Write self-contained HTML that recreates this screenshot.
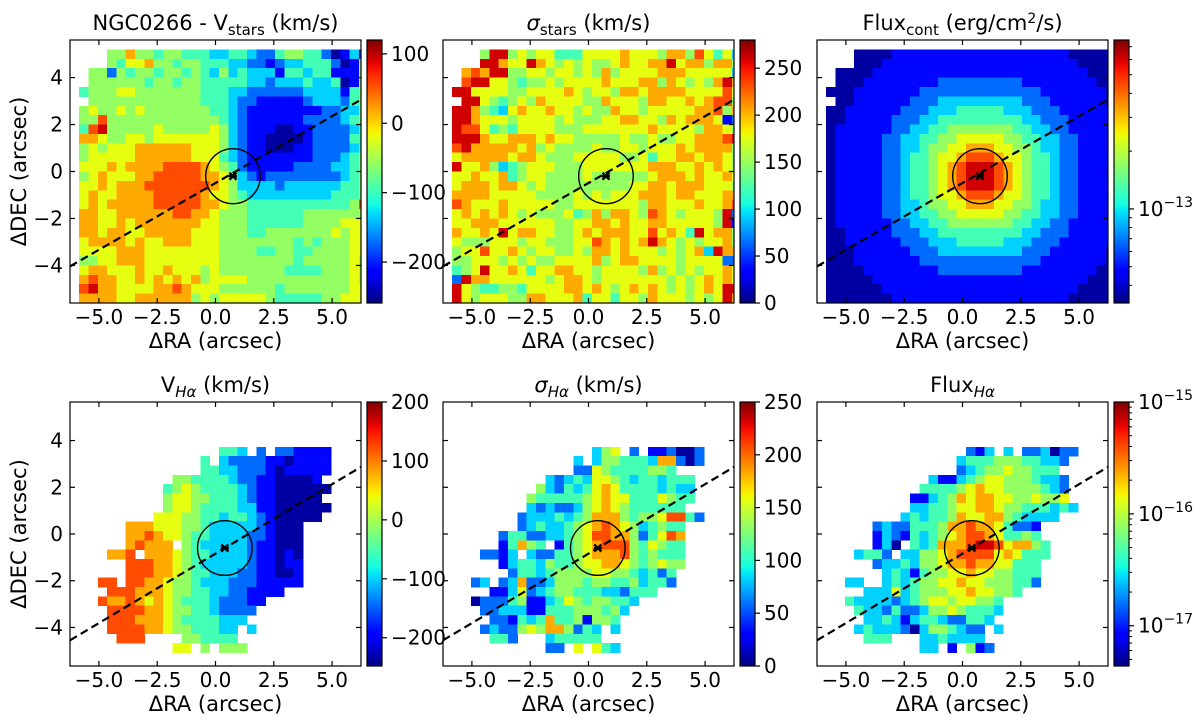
<!DOCTYPE html>
<html><head><meta charset="utf-8"><title>NGC0266 kinematic maps</title>
<style>
html,body{margin:0;padding:0;background:#fff;}
svg{display:block;font-family:"DejaVu Sans","Liberation Sans",sans-serif;}
</style></head>
<body>
<svg id="fig" width="1200" height="726" viewBox="0 0 1200 726" xmlns="http://www.w3.org/2000/svg"></svg>
<script>
// ---------- DATA (digit 0..9 -> value between panel vmin and vmax; '.' = no data) ----------
const V_STARS_GRID = [
"...5575545"+"5444334432"+"24554420131",
"...5466755"+"4554443322"+"12334442015",
".552545545"+"5454353433"+"31443441115",
".555555455"+"4554444433"+"23334334015",
"4555665555"+"5554443322"+"22223333145",
".555555555"+"5554443221"+"11112333245",
"5655656555"+"5555443211"+"11111122335",
"5585555555"+"5555543211"+"11112222345",
"4895555565"+"5555653211"+"10011222234",
"7765566566"+"6666653211"+"00001222244",
"5656667777"+"7766653211"+"00011222234",
"5666667777"+"7766643211"+"11111222345",
"6667677778"+"8887654211"+"11122223345",
"5676667788"+"8887765321"+"22222222345",
"6676777888"+"8888765333"+"32333333445",
"6766777788"+"8887665433"+"33333334445",
"6767777788"+"8887765544"+"44444444458",
"7766777777"+"8877655544"+"44445555555",
"7766767777"+"7776655544"+"44445555666",
"7767766777"+"7766655544"+"55555556566",
"6777767667"+"7766655555"+"55545455566",
"6666777666"+"6666655554"+"45544555566",
"5566777666"+"6666655555"+"55545555565",
"6776667667"+"6665655555"+"55444455565",
"7877667676"+"7675666655"+"55555555565",
"8977666677"+"8766655555"+"54555555566",
"7777667777"+"7756566666"+"54444455666",
"6667667876"+"6777556666"+"66665555667"
];
const SIGMA_STARS_GRID = [
"...5995656"+"6444666676"+"66577586463",
"...9976697"+"6565655676"+"67796775775",
".787995566"+"5665657566"+"66777666663",
".899665455"+"6566667666"+"77576565797",
"9966665566"+"6676566577"+"67777666686",
".996545657"+"6666557666"+"57766767885",
"9975436766"+"7665655766"+"56666677857",
"9976665666"+"6565556677"+"66576777612",
"9886454666"+"6555666666"+"67666657765",
"9997667776"+"7665555565"+"56556677789",
"8977777675"+"6555565566"+"56667677775",
"6777776776"+"5556666655"+"64667767765",
"9667534566"+"6555666666"+"67776676765",
"6676674566"+"5555655555"+"56777676676",
"6777677656"+"5555555556"+"67767776665",
"7777666665"+"5556565666"+"77767766677",
"8766676666"+"6556666666"+"57766676678",
"6767676565"+"5564575776"+"58765666592",
"6677766666"+"6556677676"+"67766666591",
"7667696776"+"6556767776"+"68676496775",
"6555666566"+"5556687676"+"79765656675",
"5668667656"+"6556577676"+"66565673977",
"5566656565"+"5666675677"+"66665666622",
"4569667646"+"6776656666"+"57565656676",
"2977666666"+"5677656666"+"66656567676",
"9654455466"+"6677676567"+"67656567699",
"9656665577"+"6667466466"+"57666565697",
"6666566656"+"6776665566"+"66666567776"
];
const FLUX_CONT_GRID = [
"..."+"0000"+"1111111111111111111"+"00000",
"..."+"000"+"111111111111111111111"+"0000",
"."+"0000"+"11111111111111111111111"+"000",
"."+"000"+"11111111"+"222222222"+"11111111"+"00",
"000"+"1111111"+"2222222222222"+"1111111"+"0",
"."+"00"+"111111"+"222"+"333333333"+"222"+"111111"+"0",
"00"+"111111"+"222"+"333"+"44444"+"333"+"222"+"111111",
"00"+"11111"+"222"+"33"+"444444444"+"33"+"222"+"11111",
"0"+"111111"+"22"+"33"+"44"+"5555555"+"44"+"33"+"22"+"11111",
"0"+"11111"+"22"+"33"+"44"+"55"+"66666"+"55"+"44"+"33"+"22"+"1111",
"0"+"11111"+"22"+"33"+"4"+"55"+"66"+"777"+"66"+"55"+"4"+"33"+"22"+"1111",
"0"+"11111"+"22"+"3"+"44"+"5"+"66"+"7"+"888"+"7"+"66"+"5"+"44"+"3"+"22"+"1111",
"0"+"11111"+"22"+"3"+"44"+"5"+"6"+"7"+"8"+"999"+"8"+"7"+"6"+"5"+"44"+"3"+"22"+"1111",
"0"+"11111"+"22"+"3"+"44"+"5"+"6"+"7"+"8"+"999"+"8"+"7"+"6"+"5"+"44"+"3"+"22"+"1111",
"0"+"11111"+"22"+"3"+"44"+"5"+"6"+"7"+"8"+"999"+"8"+"7"+"6"+"5"+"44"+"3"+"22"+"1111",
"0"+"11111"+"22"+"3"+"44"+"5"+"66"+"7"+"888"+"7"+"66"+"5"+"44"+"3"+"22"+"1111",
"0"+"11111"+"22"+"33"+"4"+"55"+"66"+"777"+"66"+"55"+"4"+"33"+"22"+"1111",
"0"+"11111"+"22"+"33"+"44"+"55"+"66666"+"55"+"44"+"33"+"22"+"1111",
"0"+"111111"+"22"+"33"+"44"+"5555555"+"44"+"33"+"22"+"11111",
"00"+"11111"+"222"+"33"+"444444444"+"33"+"222"+"11111",
"00"+"111111"+"222"+"333"+"44444"+"333"+"222"+"111111",
"000"+"111111"+"222"+"333333333"+"222"+"111111"+"0",
"000"+"1111111"+"2222222222222"+"1111111"+"0",
"0000"+"11111111"+"222222222"+"11111111"+"00",
"00000"+"11111111111111111111111"+"000",
"000000"+"111111111111111111111"+"0000",
"0000000"+"1111111111111111111"+"00000",
"000000000"+"111111111111111"+"0000000"
];
const V_HA_GRID = [
"","","","",
"..............."+"443"+"."+"2"+"."+"221111"+"....",
"............."+"4"+"."+"322221101111"+"....",
"............."+"44332221011111"+"....",
".........."+"5544443221100001"+".....",
"........."+"456544443211000000"+"....",
"........."+"56655444321100000"+".....",
"........."+"566544443311000000"+"....",
"........"+"666554434432100000"+".....",
"....."+"7776665543333321000"+".......",
"....."+"7787665443333221000"+".......",
"....."+"78777.5433333211000"+".......",
"..."+"778.77765443333211010"+".......",
"....."+"8887765433333211011"+".......",
"....."+"8887765443332211001"+".......",
".."+"88.8877655433322211111"+".......",
"..."+"8887776554433221111"+".........",
".."+"877876765444322211"+"...........",
"..."+"8888776554432222"+"............",
"..."+"888777654444333"+".............",
"..."+"88887765544433.3"+"............",
"...."+"888"+"...."+"554444"+"..............",
".........."+"66"+"."+"5"+"."+"555"+".............",
"",""
];
const SIGMA_HA_GRID = [
"","","","",
"..............."+"356"+"."+"2"+"."+"112002"+"....",
"............."+"3"+"."+"355444377202"+"....",
"............."+"22654444554"+".......",
".........."+"3234366543443444"+".....",
"........."+"53243467644443433"+".....",
"........"+"544444567664446544"+".....",
"........"+"32322356765444444"+"......",
"......."+"23334345777545568842"+"....",
"......."+"234334567876534544"+"......",
"....."+"24422334568877524687"+"......",
"....."+"14754.14567888546544"+"......",
"..."+"2213.32244567778545444"+"......",
"....."+"13443544566776545655"+"......",
"......"+"244345555665543424"+".......",
".."+"23.2372235554554453442"+".......",
"...."+"113623455444332444"+".........",
".."+"022245113465455443"+"...........",
"..."+"2233311444555453"+"............",
"...."+"22143474451554"+".............",
"..."+"2322565775243.3"+".............",
"...."+"442"+"..."+"344444"+"...............",
".........."+"22"+"."+"6"+"."+"643"+".............",
"",""
];
const FLUX_HA_GRID = [
"","","","",
"..............."+"213"+"."+"3"+"."+"223022"+"....",
".............."+"3"+"44455544332"+".....",
".............."+"23455655444"+"......",
"..........."+"311345665554332"+".....",
".........."+"4444567665555432"+".....",
"........."+"11345767766556556"+".....",
"........."+"334456677655444343"+"....",
"........"+"34344576677543333"+"......",
"....."+"232244457787764221"+"........",
"....."+"132143456788764454"+"........",
"....."+"130.434777899867754"+".......",
"..."+"3442.3355678888676444"+".......",
"....."+"233435567787766444"+"........",
"......"+"34314556676655444"+"........",
".."+"33..34345566766555442"+"........",
"...."+"33363455566766554"+"..........",
".."+"43333234566566554"+"............",
"..."+"4332422355654443"+"............",
"...."+"33431344322443"+".............",
"..."+"34333203554322.3"+"............",
"...."+"444"+"..."+"3343333"+"..............",
".........."+"33"+"."+"1"+"."+"512"+".............",
"",""
];
// value ranges (colour limits); log panels in log10 units
const V_STARS_RANGE = [-259, 120];
const SIGMA_STARS_RANGE = [0, 280];
const FLUX_CONT_RANGE = [-13.49, -12.12];
const V_HA_RANGE = [-248, 200];
const SIGMA_HA_RANGE = [0, 250];
const FLUX_HA_RANGE = [-17.36, -15.0];
// tick labels
const X_TICKS = [-5, -2.5, 0, 2.5, 5];
const Y_TICKS = [-4, -2, 0, 2, 4];
const CB_V_STARS_TICKS = [100, 0, -100, -200];
const CB_SIGMA_STARS_TICKS = [0, 50, 100, 150, 200, 250];
const CB_FLUX_CONT_TICKS = [-13];
const CB_V_HA_TICKS = [200, 100, 0, -100, -200];
const CB_SIGMA_HA_TICKS = [0, 50, 100, 150, 200, 250];
const CB_FLUX_HA_TICKS = [-15, -16, -17];
// kinematic centre and position-angle line (data coords, arcsec)
const CENTER_TOP = [0.75, -0.2];
const CENTER_BOTTOM = [0.4, -0.6];
const PA_LINE_TOP = [[-6.24, -4.04], [6.24, 3.06]];
const PA_LINE_BOTTOM = [[-6.24, -4.55], [6.24, 2.87]];
const APERTURE_RADIUS = 1.17;

// ---------- RENDERING ----------
const NS = "http://www.w3.org/2000/svg";
const svg = document.getElementById("fig");
function mk(tag, attrs, parent) {
  const e = document.createElementNS(NS, tag);
  for (const k in attrs) e.setAttribute(k, attrs[k]);
  (parent || svg).appendChild(e);
  return e;
}
function clamp(v){ return Math.max(0, Math.min(1, v)); }
function interp(pts, t) {
  for (let i = 1; i < pts.length; i++) {
    if (t <= pts[i][0]) {
      const a = pts[i - 1], b = pts[i];
      return a[1] + (b[1] - a[1]) * (t - a[0]) / (b[0] - a[0]);
    }
  }
  return pts[pts.length - 1][1];
}
const JR = [[0,0],[0.35,0],[0.66,1],[0.89,1],[1,0.5]];
const JG = [[0,0],[0.125,0],[0.375,1],[0.64,1],[0.91,0],[1,0]];
const JB = [[0,0.5],[0.11,1],[0.34,1],[0.65,0],[1,0]];
function jet(t) {
  t = clamp(t);
  return "rgb(" + Math.round(interp(JR, t) * 255) + "," + Math.round(interp(JG, t) * 255) + "," + Math.round(interp(JB, t) * 255) + ")";
}
function fmt(v, dec){ return (v < 0 ? "\u2212" : "") + Math.abs(v).toFixed(dec); }

const panels = [
  {key:"v-stars", grid:V_STARS_GRID, range:V_STARS_RANGE, ticks:CB_V_STARS_TICKS, log:false, x:70, y:40, h:263, y0:5.2, ylim:5.6, center:CENTER_TOP, pa:PA_LINE_TOP, ylab:true, title:"t1"},
  {key:"sigma-stars", grid:SIGMA_STARS_GRID, range:SIGMA_STARS_RANGE, ticks:CB_SIGMA_STARS_TICKS, log:false, x:443, y:40, h:263, y0:5.2, ylim:5.6, center:CENTER_TOP, pa:PA_LINE_TOP, ylab:false, title:"t2"},
  {key:"flux-cont", grid:FLUX_CONT_GRID, range:FLUX_CONT_RANGE, ticks:CB_FLUX_CONT_TICKS, log:true, x:817, y:40, h:263, y0:5.2, ylim:5.6, center:CENTER_TOP, pa:PA_LINE_TOP, ylab:false, title:"t3"},
  {key:"v-halpha", grid:V_HA_GRID, range:V_HA_RANGE, ticks:CB_V_HA_TICKS, log:false, x:70, y:402, h:264, y0:5.33, ylim:5.65, center:CENTER_BOTTOM, pa:PA_LINE_BOTTOM, ylab:true, title:"t4"},
  {key:"sigma-halpha", grid:SIGMA_HA_GRID, range:SIGMA_HA_RANGE, ticks:CB_SIGMA_HA_TICKS, log:false, x:443, y:402, h:264, y0:5.33, ylim:5.65, center:CENTER_BOTTOM, pa:PA_LINE_BOTTOM, ylab:false, title:"t5"},
  {key:"flux-halpha", grid:FLUX_HA_GRID, range:FLUX_HA_RANGE, ticks:CB_FLUX_HA_TICKS, log:true, x:817, y:402, h:264, y0:5.33, ylim:5.65, center:CENTER_BOTTOM, pa:PA_LINE_BOTTOM, ylab:false, title:"t6"}
];
const W = 291, XLIM = 6.24, X0 = -5.85, CELL = 0.4;
const FS_TICK = 20, FS_LAB = 21, FS_TITLE = 21, FS_SUB = 15;

function titleText(p, g) {
  const cx = p.x + W / 2, ty = p.y - 10;
  const t = mk("text", {x: cx, y: ty, "text-anchor": "middle", "font-size": FS_TITLE}, g);
  
  
  const parts = {
    t1: [["NGC0266 - V",0,FS_TITLE,""],["stars",5,FS_SUB,""],[" (km/s)",-5,FS_TITLE,""]],
    t2: [["\u03C3",0,FS_TITLE,"italic"],["stars",5,FS_SUB,""],[" (km/s)",-5,FS_TITLE,""]],
    t3: [["Flux",0,FS_TITLE,""],["cont",5,FS_SUB,""],[" (erg/cm",-5,FS_TITLE,""],["2",-7,14,""],["/s)",7,FS_TITLE,""]],
    t4: [["V",0,FS_TITLE,""],["H\u03B1",5,FS_SUB,"italic"],[" (km/s)",-5,FS_TITLE,""]],
    t5: [["\u03C3",0,FS_TITLE,"italic"],["H\u03B1",5,FS_SUB,"italic"],[" (km/s)",-5,FS_TITLE,""]],
    t6: [["Flux",0,FS_TITLE,""],["H\u03B1",5,FS_SUB,"italic"]]
  }[p.title];
  parts.forEach(q => {
    const s = mk("tspan", {dy: q[1], "font-size": q[2]}, t);
    if (q[3]) s.setAttribute("font-style", q[3]);
    s.textContent = q[0];
  });
}

panels.forEach(p => {
  const g = mk("g", {});
  
  
  const sx = x => p.x + (x + XLIM) / (2 * XLIM) * W;
  const sy = y => p.y + (p.ylim - y) / (2 * p.ylim) * p.h;
  const clipId = "clip-" + p.key;
  const cp = mk("clipPath", {id: clipId}, g);
  mk("rect", {x: p.x, y: p.y, width: W, height: p.h}, cp);
  const hm = mk("g", {"clip-path": "url(#" + clipId + ")", "shape-rendering": "crispEdges"}, g);
  
  
  const [vmin, vmax] = p.range;
  p.grid.forEach((row, r) => {
    for (let c = 0; c < row.length; c++) {
      const ch = row[c];
      if (ch < "0" || ch > "9") continue;
      const val = vmin + ((+ch) / 10 + 0.03) * (vmax - vmin);
      const t = (val - vmin) / (vmax - vmin);
      const x1 = sx(X0 + c * CELL), x2 = sx(X0 + (c + 1) * CELL);
      const y1 = sy(p.y0 - r * CELL), y2 = sy(p.y0 - (r + 1) * CELL);
      const cell = mk("rect", {x: x1.toFixed(2), y: y1.toFixed(2), width: (x2 - x1 + 0.4).toFixed(2), height: (y2 - y1 + 0.4).toFixed(2), fill: jet(t)}, hm);
      
      
    }
  });
  const pl = mk("line", {x1: sx(p.pa[0][0]), y1: sy(p.pa[0][1]), x2: sx(p.pa[1][0]), y2: sy(p.pa[1][1]), stroke: "#000", "stroke-width": 2.2, "stroke-dasharray": "8,4.5", "clip-path": "url(#" + clipId + ")"}, g);
  
  
  const cx = sx(p.center[0]), cy = sy(p.center[1]);
  const circ = mk("ellipse", {cx: cx, cy: cy, rx: APERTURE_RADIUS / (2 * XLIM) * W, ry: APERTURE_RADIUS / (2 * p.ylim) * p.h, fill: "none", stroke: "#000", "stroke-width": 1.4}, g);
  
  
  const star = mk("path", {d: "M" + (cx - 3.5) + " " + (cy - 3.5) + "L" + (cx + 3.5) + " " + (cy + 3.5) + "M" + (cx + 3.5) + " " + (cy - 3.5) + "L" + (cx - 3.5) + " " + (cy + 3.5) + "M" + (cx - 4) + " " + cy + "L" + (cx + 4) + " " + cy, stroke: "#000", "stroke-width": 2.4}, g);
  
  
  const fr = mk("rect", {x: p.x, y: p.y, width: W, height: p.h, fill: "none", stroke: "#000", "stroke-width": 1.2}, g);
  
  
  const bottom = p.y + p.h;
  X_TICKS.forEach(v => {
    const x = sx(v);
    mk("line", {x1: x, y1: bottom, x2: x, y2: bottom - 5, stroke: "#000", "stroke-width": 1.2}, g);
    mk("line", {x1: x, y1: p.y, x2: x, y2: p.y + 5, stroke: "#000", "stroke-width": 1.2}, g);
    const tl = mk("text", {x: x, y: bottom + 21, "text-anchor": "middle", "font-size": FS_TICK}, g);
    
    
    tl.textContent = fmt(v, 1);
  });
  Y_TICKS.forEach(v => {
    const y = sy(v);
    mk("line", {x1: p.x, y1: y, x2: p.x + 5, y2: y, stroke: "#000", "stroke-width": 1.2}, g);
    mk("line", {x1: p.x + W, y1: y, x2: p.x + W - 5, y2: y, stroke: "#000", "stroke-width": 1.2}, g);
    if (p.ylab) {
      const tl = mk("text", {x: p.x - 7, y: y + 7, "text-anchor": "end", "font-size": FS_TICK}, g);
      
      
      tl.textContent = fmt(v, 0);
    }
  });
  const xl = mk("text", {x: p.x + W / 2, y: bottom + 45, "text-anchor": "middle", "font-size": FS_LAB}, g);
  
  
  xl.textContent = "\u0394RA (arcsec)";
  if (p.ylab) {
    const yc = p.y + p.h / 2;
    const yl = mk("text", {x: 26, y: yc, "text-anchor": "middle", "font-size": FS_LAB, transform: "rotate(-90 26 " + yc + ")"}, g);
    
    
    yl.textContent = "\u0394DEC (arcsec)";
  }
  titleText(p, g);
  const cbx = p.x + 297, cbw = 15;
  const gid = "grad-" + p.key;
  const lg = mk("linearGradient", {id: gid, x1: 0, y1: 1, x2: 0, y2: 0}, g);
  for (let i = 0; i <= 40; i++) mk("stop", {offset: i / 40, "stop-color": jet(i / 40)}, lg);
  const cb = mk("rect", {x: cbx, y: p.y, width: cbw, height: p.h, fill: "url(#" + gid + ")", stroke: "#000", "stroke-width": 1.2}, g);
  
  
  const cy2 = v => p.y + (vmax - v) / (vmax - vmin) * p.h;
  if (p.log) {
    for (let d = Math.floor(vmin); d <= Math.ceil(vmax); d++) {
      for (let m = 2; m <= 9; m++) {
        const lv = d + Math.log10(m);
        if (lv <= vmin || lv >= vmax) continue;
        mk("line", {x1: cbx + cbw, y1: cy2(lv), x2: cbx + cbw + 3, y2: cy2(lv), stroke: "#000", "stroke-width": 1}, g);
      }
    }
  }
  p.ticks.forEach(v => {
    const y = cy2(v);
    mk("line", {x1: cbx + cbw, y1: y, x2: cbx + cbw + 5, y2: y, stroke: "#000", "stroke-width": 1.2}, g);
    const tl = mk("text", {x: cbx + cbw + 9, y: y + 7, "font-size": FS_TICK}, g);
    
    
    if (p.log) {
      const a = mk("tspan", {}, tl); a.textContent = "10";
      const b = mk("tspan", {dy: -9, "font-size": 14}, tl); b.textContent = "\u2212" + Math.abs(v);
    } else {
      tl.textContent = fmt(v, 0);
    }
  });
});
</script>
</body></html>
